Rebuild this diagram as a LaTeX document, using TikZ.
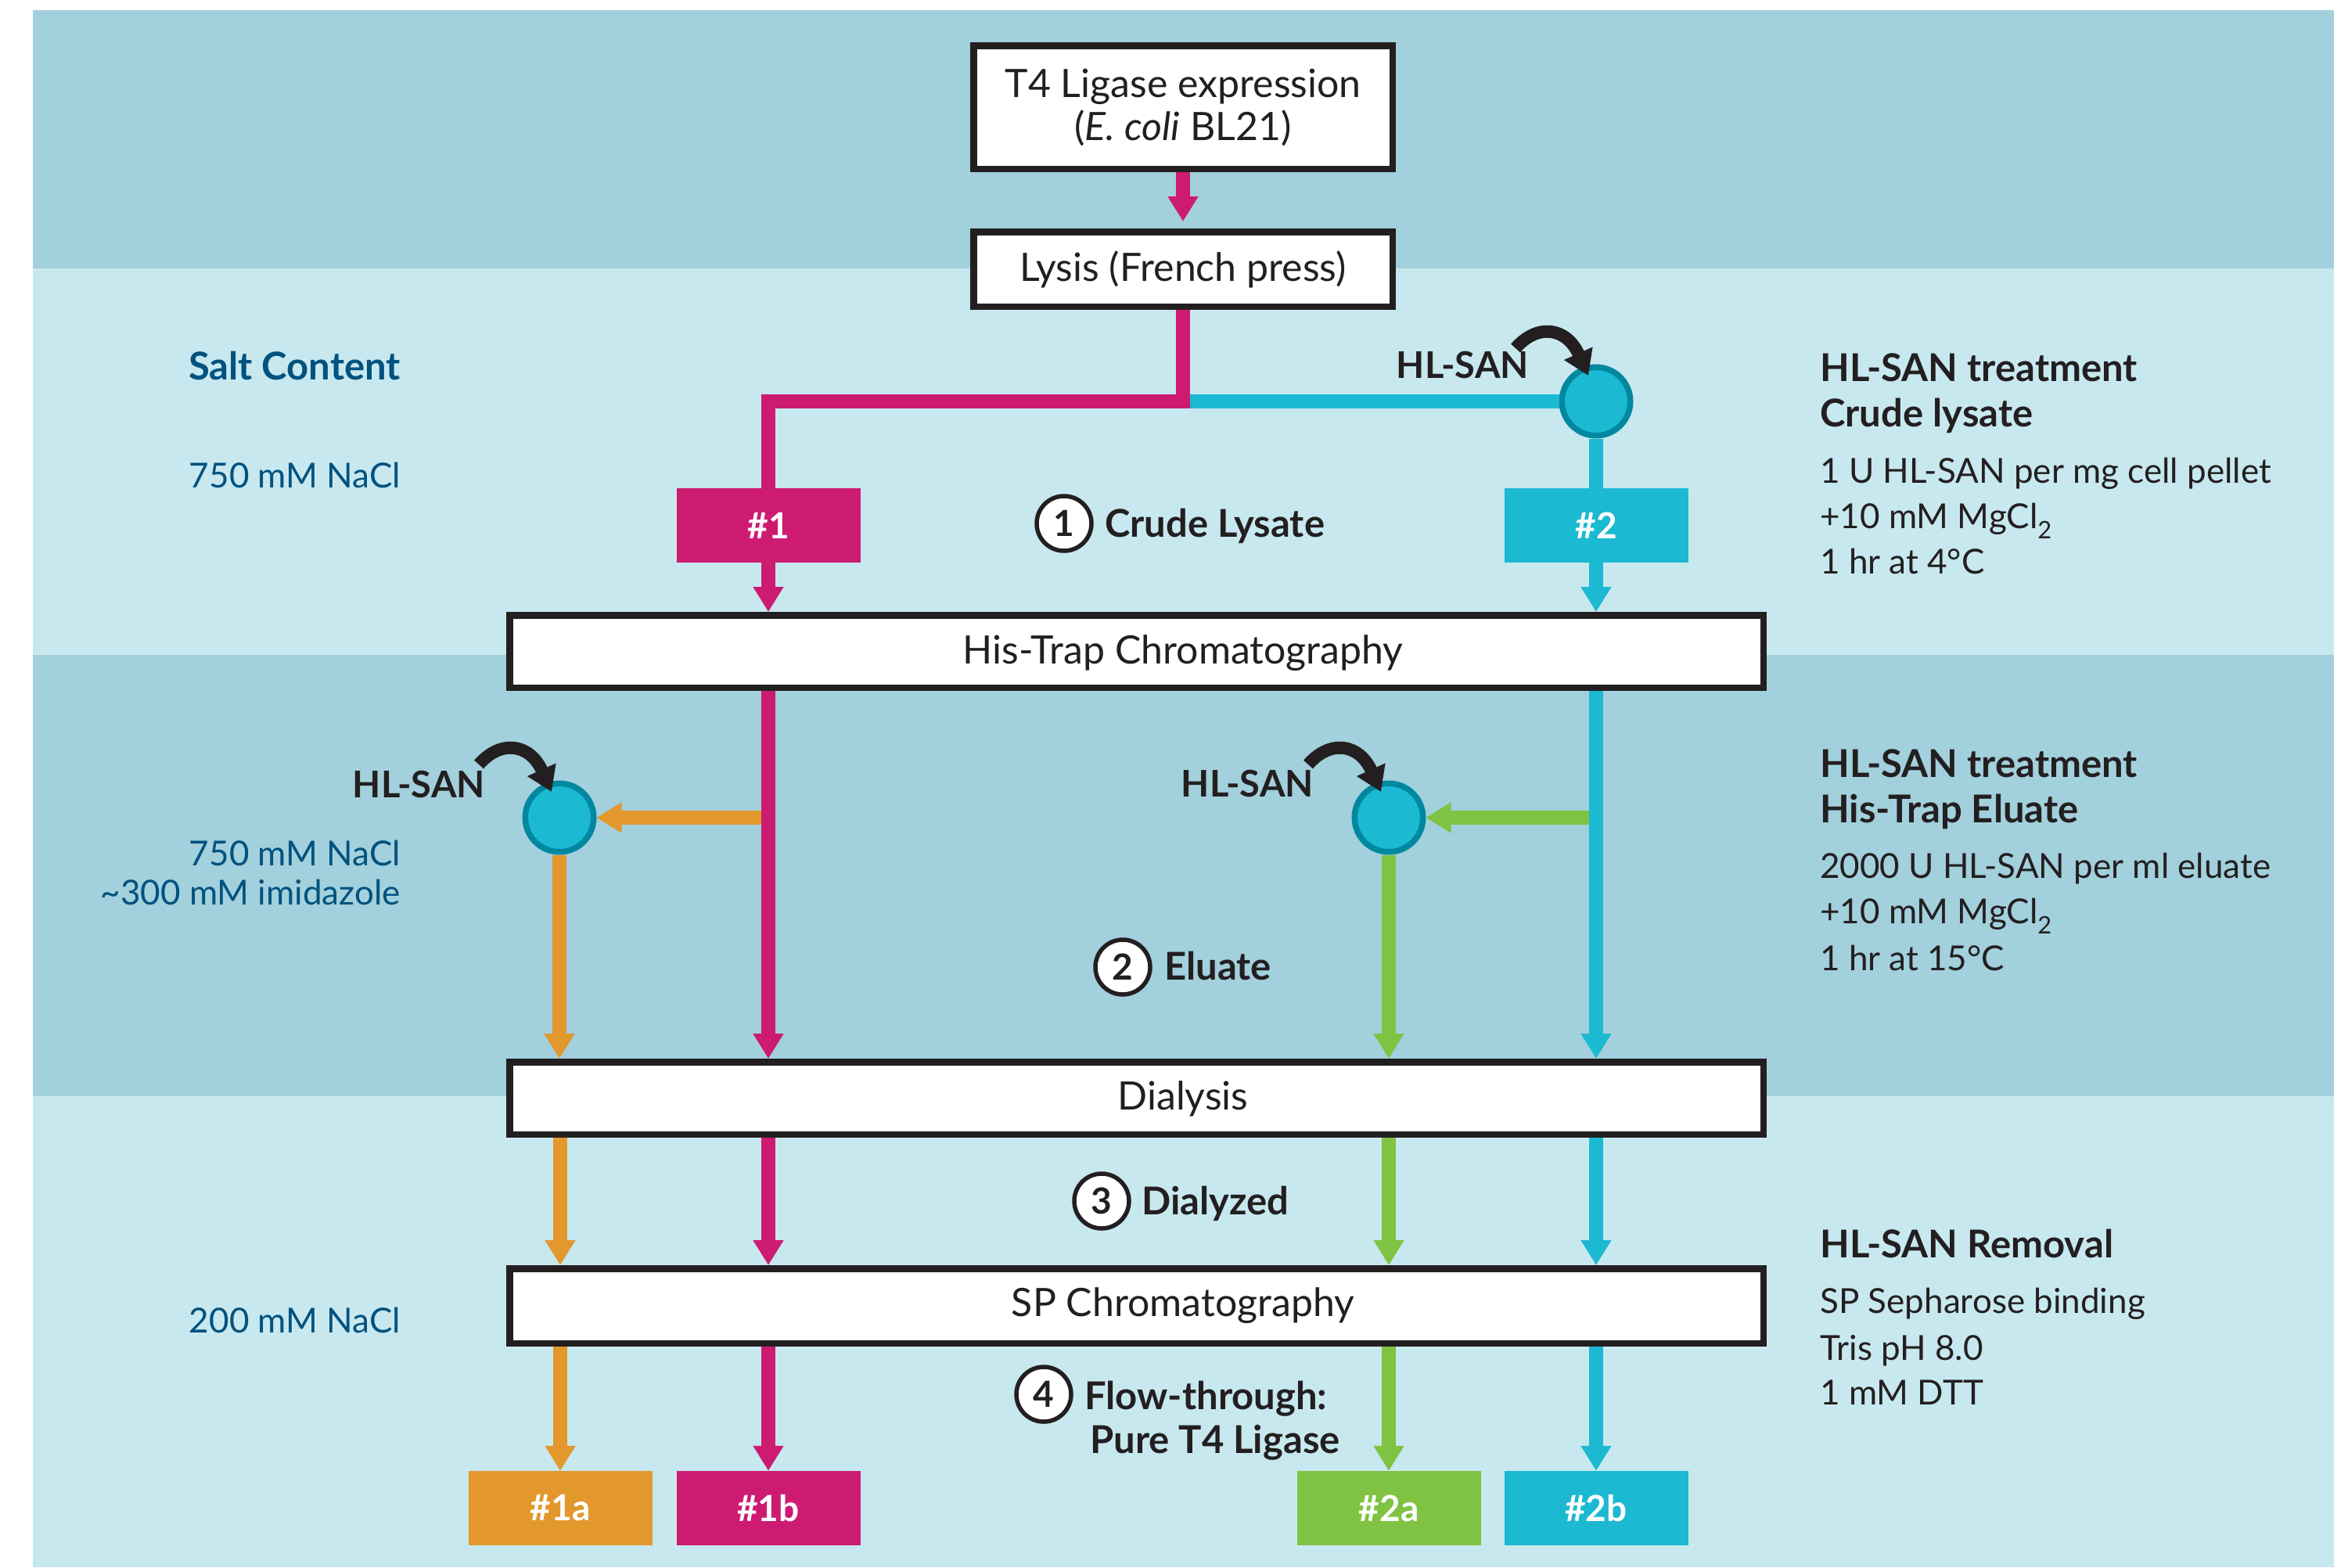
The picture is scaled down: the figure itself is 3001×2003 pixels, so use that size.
\documentclass[tikz,border=0pt]{standalone}
\usepackage{fontspec}
\setmainfont{Lato}
\usetikzlibrary{arrows.meta}
\definecolor{bgdark}{HTML}{A2D0DC}
\definecolor{bglight}{HTML}{C8E8EF}
\definecolor{mag}{HTML}{CE1B72}
\definecolor{cyn}{HTML}{1CB9D2}
\definecolor{org}{HTML}{E2982C}
\definecolor{grn}{HTML}{80C242}
\definecolor{ring}{HTML}{0088A0}
\definecolor{ink}{HTML}{231F20}
\definecolor{salt}{HTML}{00527F}
\newcommand\fsreg{\fontsize{44pt}{56pt}\selectfont}
\newcommand\fsbold{\fontsize{46pt}{56pt}\selectfont\bfseries}
\newcommand\fslab{\fontsize{47pt}{56pt}\selectfont\bfseries}
\newcommand\fshead{\fontsize{49pt}{58pt}\selectfont\bfseries}
\newcommand\fsbox{\fontsize{50pt}{55pt}\selectfont}
\begin{document}
\begin{tikzpicture}[x=1pt,y=-1pt,
  stepbox/.style={draw=ink, line width=8.5pt, fill=white, inner sep=0pt, minimum width=535.5pt, font=\fsbox, text=ink, align=center},
  longbox/.style={draw=ink, line width=8.5pt, fill=white, inner sep=0pt, minimum width=1602.5pt, minimum height=92.5pt},
  boxtext/.style={anchor=base, inner sep=0pt, font=\fsbox, text=ink},
  tag/.style={inner sep=0pt, minimum width=235pt, minimum height=95pt, text=white, font=\fsbold},
  enzyme/.style={circle, fill=cyn, draw=ring, line width=7.5pt, minimum size=87.5pt, inner sep=0pt},
  numc/.style={circle, fill=white, draw=ink, line width=5.5pt, minimum size=70pt, inner sep=0pt, font=\fsbold, text=ink},
  steplabel/.style={anchor=base west, inner sep=0pt, font=\fshead, text=ink},
  rhead/.style={anchor=base west, inner sep=0pt, font=\fshead, text=ink},
  rtext/.style={anchor=base west, inner sep=0pt, font=\fsreg, text=ink},
  ltext/.style={anchor=base east, inner sep=0pt, font=\fsreg, text=salt},
  lhead/.style={anchor=base east, inner sep=0pt, font=\fshead, text=salt},
  hlsan/.style={anchor=base east, inner sep=0pt, font=\fslab, text=ink},
  flow/.style={line width=18pt, -{Triangle[length=32pt,width=37pt]}},
  pipe/.style={line width=18pt, line join=miter},
  curv/.style={draw=ink, line width=16pt, -{Triangle[length=31pt,width=38pt]}, color=ink}
]
\useasboundingbox (0,0) rectangle (3001,2003);
% bands
\fill[white] (0,0) rectangle (3001,2003);
\fill[bgdark] (42,13) rectangle (2983,343);
\fill[bglight] (42,343) rectangle (2983,837);
\fill[bgdark] (42,837) rectangle (2983,1401);
\fill[bglight] (42,1401) rectangle (2983,2003);

% main boxes
\node[stepbox, minimum height=157.5pt] (t4) at (1512,137) {T4 Ligase expression\\(\textit{E. coli} BL21)};
\node[stepbox, minimum height=95.5pt] (lysis) at (1512,344) {Lysis (French press)};
\node[longbox] (histrap) at (1452.5,832.5) {};
\node[boxtext] (histraptext) at (1512,848) {His-Trap Chromatography};
\node[longbox] (dialysis) at (1452.5,1403.5) {};
\node[boxtext] (dialysistext) at (1512,1418) {Dialysis};
\node[longbox, minimum height=95.5pt] (sp) at (1452.5,1669) {};
\node[boxtext] (sptext) at (1512,1682) {SP Chromatography};

% coloured tags
\node[tag, fill=mag] (n1) at (982,671.5) {\#1};
\node[tag, fill=cyn] (n2) at (2040,671.5) {\#2};
\node[tag, fill=org] (n1a) at (716,1927.5) {\#1a};
\node[tag, fill=mag] (n1b) at (982,1927.5) {\#1b};
\node[tag, fill=grn] (n2a) at (1775,1927.5) {\#2a};
\node[tag, fill=cyn] (n2b) at (2040,1927.5) {\#2b};

% enzyme circles
\node[enzyme] (cA) at (2040,513) {};
\node[enzyme] (cB) at (715,1045) {};
\node[enzyme] (cC) at (1775,1045) {};

% HL-SAN labels
\node[hlsan] (hA) at (1954,483) {HL-SAN};
\node[hlsan] (hB) at (620,1019) {HL-SAN};
\node[hlsan] (hC) at (1679,1018) {HL-SAN};

% step numbers
\node[numc] (s1) at (1360,669) {1};
\node[steplabel] (s1t) at (1412,686) {Crude Lysate};
\node[numc] (s2) at (1435,1236) {2};
\node[steplabel] (s2t) at (1488,1252) {Eluate};
\node[numc] (s3) at (1408,1535) {3};
\node[steplabel] (s3t) at (1459,1552) {Dialyzed};
\node[numc] (s4) at (1334,1782) {4};
\node[steplabel] (s4t) at (1386,1801) {Flow-through:};
\node[steplabel] (s4u) at (1393,1857) {Pure T4 Ligase};

% left column
\node[lhead] (salt) at (512,485) {Salt Content};
\node[ltext] (l1) at (512,623) {750 mM NaCl};
\node[ltext] (l2) at (512,1106) {750 mM NaCl};
\node[ltext] (l3) at (512,1156) {\textasciitilde300 mM imidazole};
\node[ltext] (l4) at (512,1703) {200 mM NaCl};

% right column
\node[rhead] (r1) at (2326,487) {HL-SAN treatment};
\node[rhead] (r2) at (2326,545) {Crude lysate};
\node[rtext] (r3) at (2326,617) {1 U HL-SAN per mg cell pellet};
\node[rtext] (r4) at (2326,675) {+10 mM MgCl\textsubscript{2}};
\node[rtext] (r5) at (2326,733) {1 hr at 4°C};
\node[rhead] (r6) at (2326,993) {HL-SAN treatment};
\node[rhead] (r7) at (2326,1051) {His-Trap Eluate};
\node[rtext] (r8) at (2326,1122) {2000 U HL-SAN per ml eluate};
\node[rtext] (r9) at (2326,1180) {+10 mM MgCl\textsubscript{2}};
\node[rtext] (r10) at (2326,1240) {1 hr at 15°C};
\node[rhead] (r11) at (2326,1607) {HL-SAN Removal};
\node[rtext] (r12) at (2326,1678) {SP Sepharose binding};
\node[rtext] (r13) at (2326,1738) {Tris pH 8.0};
\node[rtext] (r14) at (2326,1795) {1 mM DTT};

% connectors: top
\draw[flow, mag] (t4.south) -- ([yshift=9pt]lysis.north);
\draw[pipe, cyn] ([xshift=9pt]lysis.south |- cA.center) -- (cA.west);
\draw[pipe, mag] (lysis.south) -- (lysis.south |- cA.center) -| (n1.north);
\draw[pipe, cyn] (cA.south) -- (n2.north);
\draw[flow, mag] (n1.south) -- (n1.south |- histrap.north);
\draw[flow, cyn] (n2.south) -- (n2.south |- histrap.north);

% dark band
\draw[flow, org] (n1.south |- cB.center) -- (cB.east);
\draw[flow, mag] (n1.south |- histrap.south) -- (n1.south |- dialysis.north);
\draw[flow, org] (cB.south) -- (cB.south |- dialysis.north);
\draw[flow, grn] (n2.south |- cC.center) -- (cC.east);
\draw[flow, cyn] (n2.south |- histrap.south) -- (n2.south |- dialysis.north);
\draw[flow, grn] (cC.south) -- (cC.south |- dialysis.north);

% bottom band
\foreach \b/\c in {n1a/org, n1b/mag, n2a/grn, n2b/cyn}{
  \draw[flow, \c] (\b.north |- dialysis.south) -- (\b.north |- sp.north);
  \draw[flow, \c] (\b.north |- sp.south) -- (\b.north);
}

% HL-SAN addition arrows
\foreach \cc in {cA, cB, cC}{
  \draw[curv] ([shift={(-103,-68)}]\cc.center) .. controls ([shift={(-75,-100)}]\cc.center) and ([shift={(-38,-95)}]\cc.center) .. ([shift={(-10,-33)}]\cc.center);
}
\end{tikzpicture}
\end{document}
